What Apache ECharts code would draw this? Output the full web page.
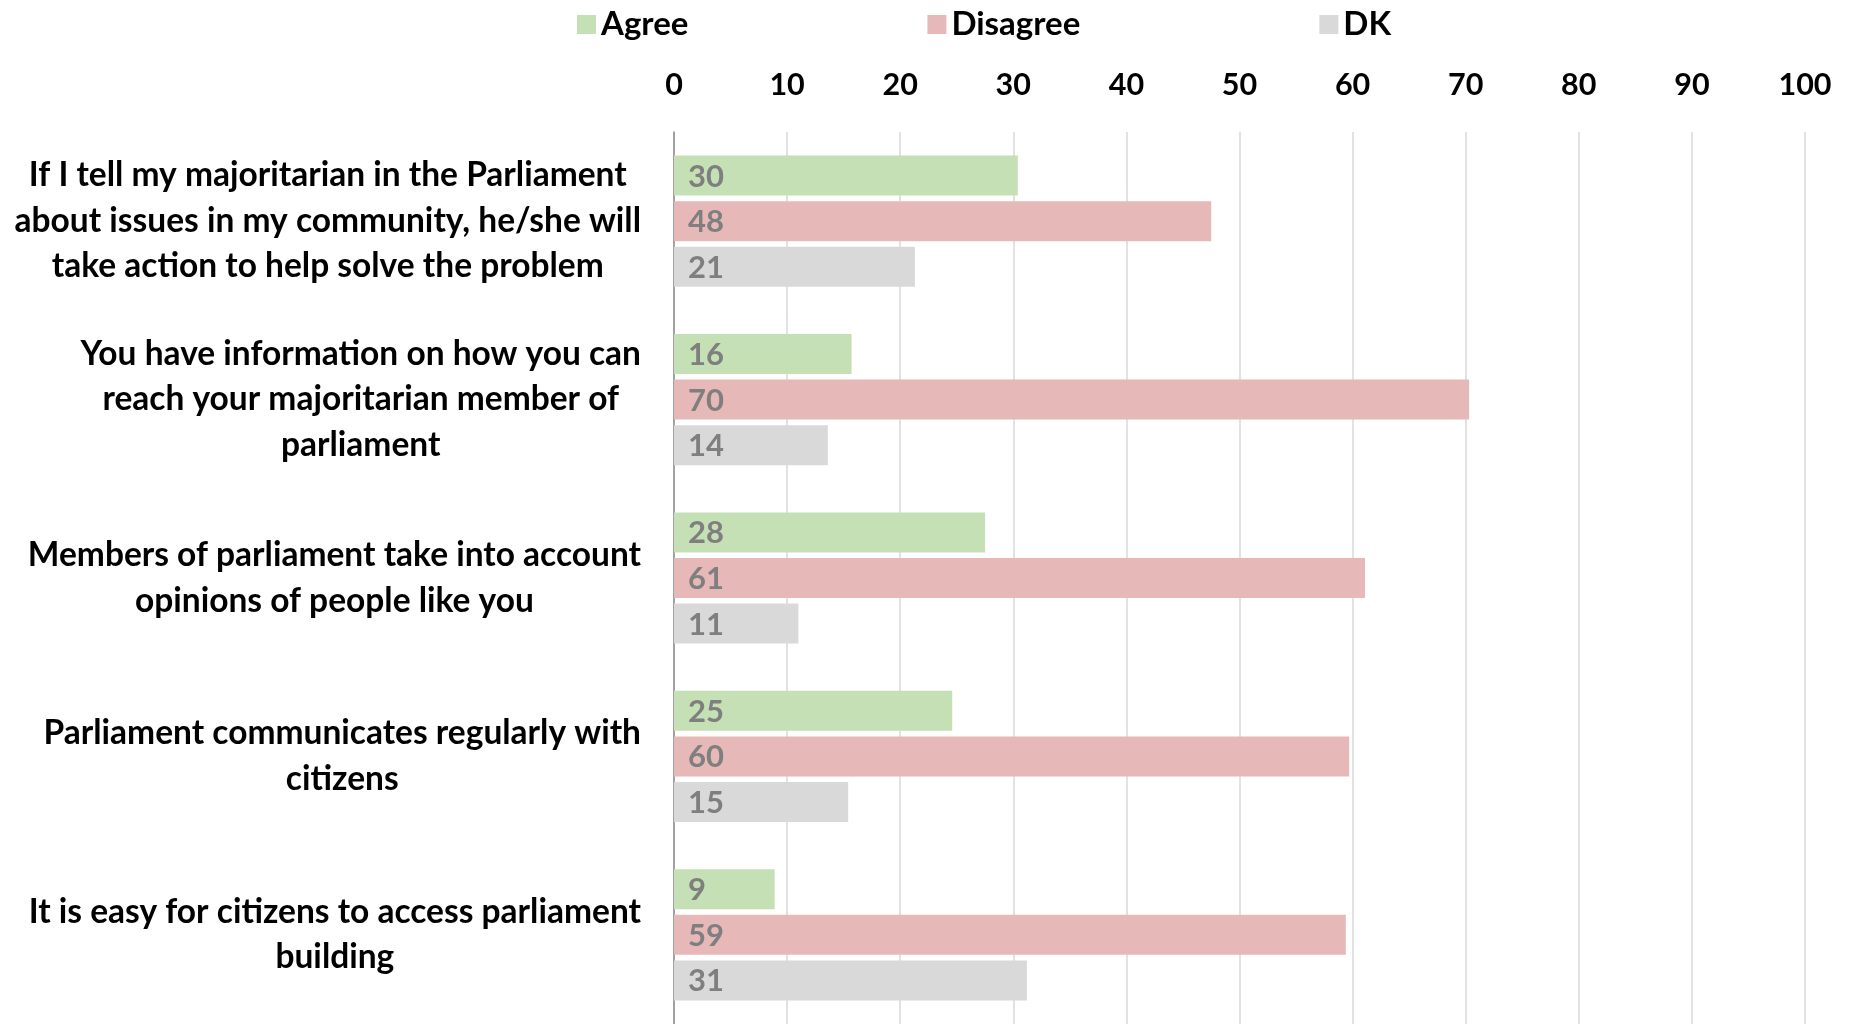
<!DOCTYPE html>
<html>
<head>
<meta charset="utf-8">
<script src="https://cdn.jsdelivr.net/npm/echarts@6/dist/echarts.min.js"></script>
<style>
html,body{margin:0;padding:0;background:#fff;}
#chart{width:1854px;height:1024px;}
</style>
</head>
<body>
<div id="chart"></div>
<script>
const categories = [
  "If I tell my majoritarian in the Parliament\nabout issues in my community, he/she will\ntake action to help solve the problem",
  "You have information on how you can\nreach your majoritarian member of\nparliament",
  "Members of parliament take into account\nopinions of people like you",
  "Parliament communicates regularly with\ncitizens",
  "It is easy for citizens to access parliament\nbuilding"
];
const seriesNames = ["Agree", "Disagree", "DK"];
const agree = [30.4, 15.7, 27.5, 24.6, 8.9];
const disagree = [47.5, 70.3, 61.1, 59.7, 59.4];
const dk = [21.3, 13.6, 11.0, 15.4, 31.2];
const xTicks = { min: 0, max: 100, interval: 10 };

const colors = ["#c5e0b4", "#e6b9b8", "#d9d9d9"];
const FONT = "Lato";

const chart = echarts.init(document.getElementById('chart'), null, { renderer: 'canvas' });

function makeSeries(name, data, color) {
  return {
    name: name,
    type: 'bar',
    data: data,
    barWidth: 40,
    barGap: '14%',
    itemStyle: { color: color },
    label: {
      show: true,
      position: 'insideLeft',
      distance: 14,
      color: '#7f7f7f',
      fontFamily: FONT,
      fontWeight: 'bold',
      fontSize: 31,
      offset: [0, 1],
      formatter: p => String(Math.round(p.value))
    },
    emphasis: { disabled: true },
    animation: false
  };
}

chart.setOption({
  animation: false,
  legend: {
    top: 3,
    left: 572,
    itemWidth: 19,
    itemHeight: 19,
    itemGap: 239,
    icon: 'rect',
    textStyle: { fontFamily: FONT, fontWeight: 'bold', fontSize: 33, color: '#000' },
    data: seriesNames
  },
  grid: { left: 674, right: 49, top: 132, bottom: -3, containLabel: false },
  xAxis: {
    type: 'value',
    position: 'top',
    min: xTicks.min,
    max: xTicks.max,
    interval: xTicks.interval,
    axisLine: { show: false },
    axisTick: { show: false },
    axisLabel: { fontFamily: FONT, fontWeight: 'bold', fontSize: 30.5, color: '#000', margin: 31 },
    splitLine: { show: true, lineStyle: { color: '#d9d9d9', width: 1.5 } }
  },
  yAxis: {
    type: 'category',
    inverse: true,
    data: categories,
    axisLine: { show: true, lineStyle: { color: '#8c8c8c', width: 1.5 } },
    axisTick: { show: false },
    axisLabel: {
      margin: 33,
      formatter: v => v.split('\n').map(l => '{c|' + l + '}').join('\n'),
      rich: {
        c: { align: 'center', fontFamily: FONT, fontWeight: 'bold', fontSize: 33.5, color: '#000', lineHeight: 45.5 }
      }
    }
  },
  series: [
    makeSeries(seriesNames[0], agree, colors[0]),
    makeSeries(seriesNames[1], disagree, colors[1]),
    makeSeries(seriesNames[2], dk, colors[2])
  ]
});
</script>
</body>
</html>
